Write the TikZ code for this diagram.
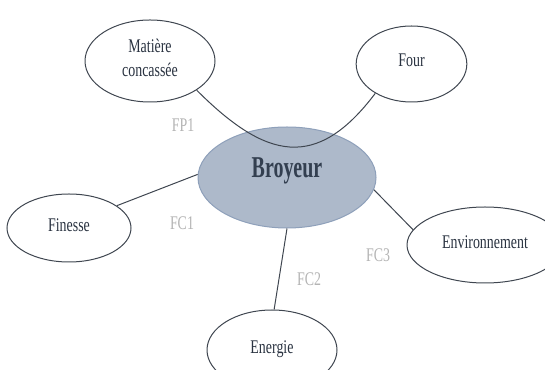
\documentclass[tikz,border=0pt]{standalone}
\usepackage{fontspec}
\setmainfont{Liberation Serif}[FakeStretch=0.72]
\newfontfamily\hubfont{Liberation Serif}[FakeStretch=0.66]
\usetikzlibrary{shapes.geometric}
\definecolor{hubfill}{HTML}{ADB9CA}
\definecolor{hubline}{HTML}{8EA0BA}
\definecolor{hubtext}{HTML}{333F50}
\definecolor{edgegray}{HTML}{3F4650}
\definecolor{fcgray}{HTML}{B4B4B4}
\begin{document}
\begin{tikzpicture}[x=0.75pt,y=0.75pt,
  bubble/.style={draw=edgegray, line width=0.75pt, ellipse, inner sep=0pt, text depth=5pt,
    text=hubtext!80!black, font=\fontsize{14.5}{18.5}\selectfont},
  hub/.style={ellipse, fill=hubfill, draw=hubline, line width=0.75pt, inner sep=0pt,
    minimum width=133.5pt, minimum height=75.75pt, text depth=15.5pt,
    text=hubtext, font=\hubfont\bfseries\fontsize{22.7}{26}\selectfont},
  fclabel/.style={text=fcgray, font=\fontsize{14.5}{17}\selectfont},
  link/.style={draw=edgegray, line width=0.75pt}]
\useasboundingbox (0,0) rectangle (545,370);
\clip (0,0) rectangle (545,370);

\node[hub] (broy) at (287,192.5) {Broyeur};
\node[bubble, minimum width=97.5pt, minimum height=61.5pt, align=center] (mat) at (150,309) {Matière\\concassée};
\node[bubble, minimum width=83pt, minimum height=57pt] (four) at (411.5,306) {Four};
\node[bubble, minimum width=93pt, minimum height=51pt] (fin) at (69,142) {Finesse};
\node[bubble, minimum width=117pt, minimum height=57pt] (env) at (485,125) {Environnement};
\node[bubble, minimum width=97.5pt, minimum height=60pt] (ener) at (272,20) {Energie};

\draw[link] (mat.-32) to[out=-45, in=-127, looseness=1.4] (four.-141);
\draw[link] (fin.25) -- (broy.178);
\draw[link] (broy.270) -- (ener.87);
\draw[link] (broy.-8) -- (env.168);

\node[fclabel] (fp1) at (183,245) {FP1};
\node[fclabel] (fc1) at (182,147) {FC1};
\node[fclabel] (fc2) at (309,91) {FC2};
\node[fclabel] (fc3) at (378,115) {FC3};
\end{tikzpicture}
\end{document}
